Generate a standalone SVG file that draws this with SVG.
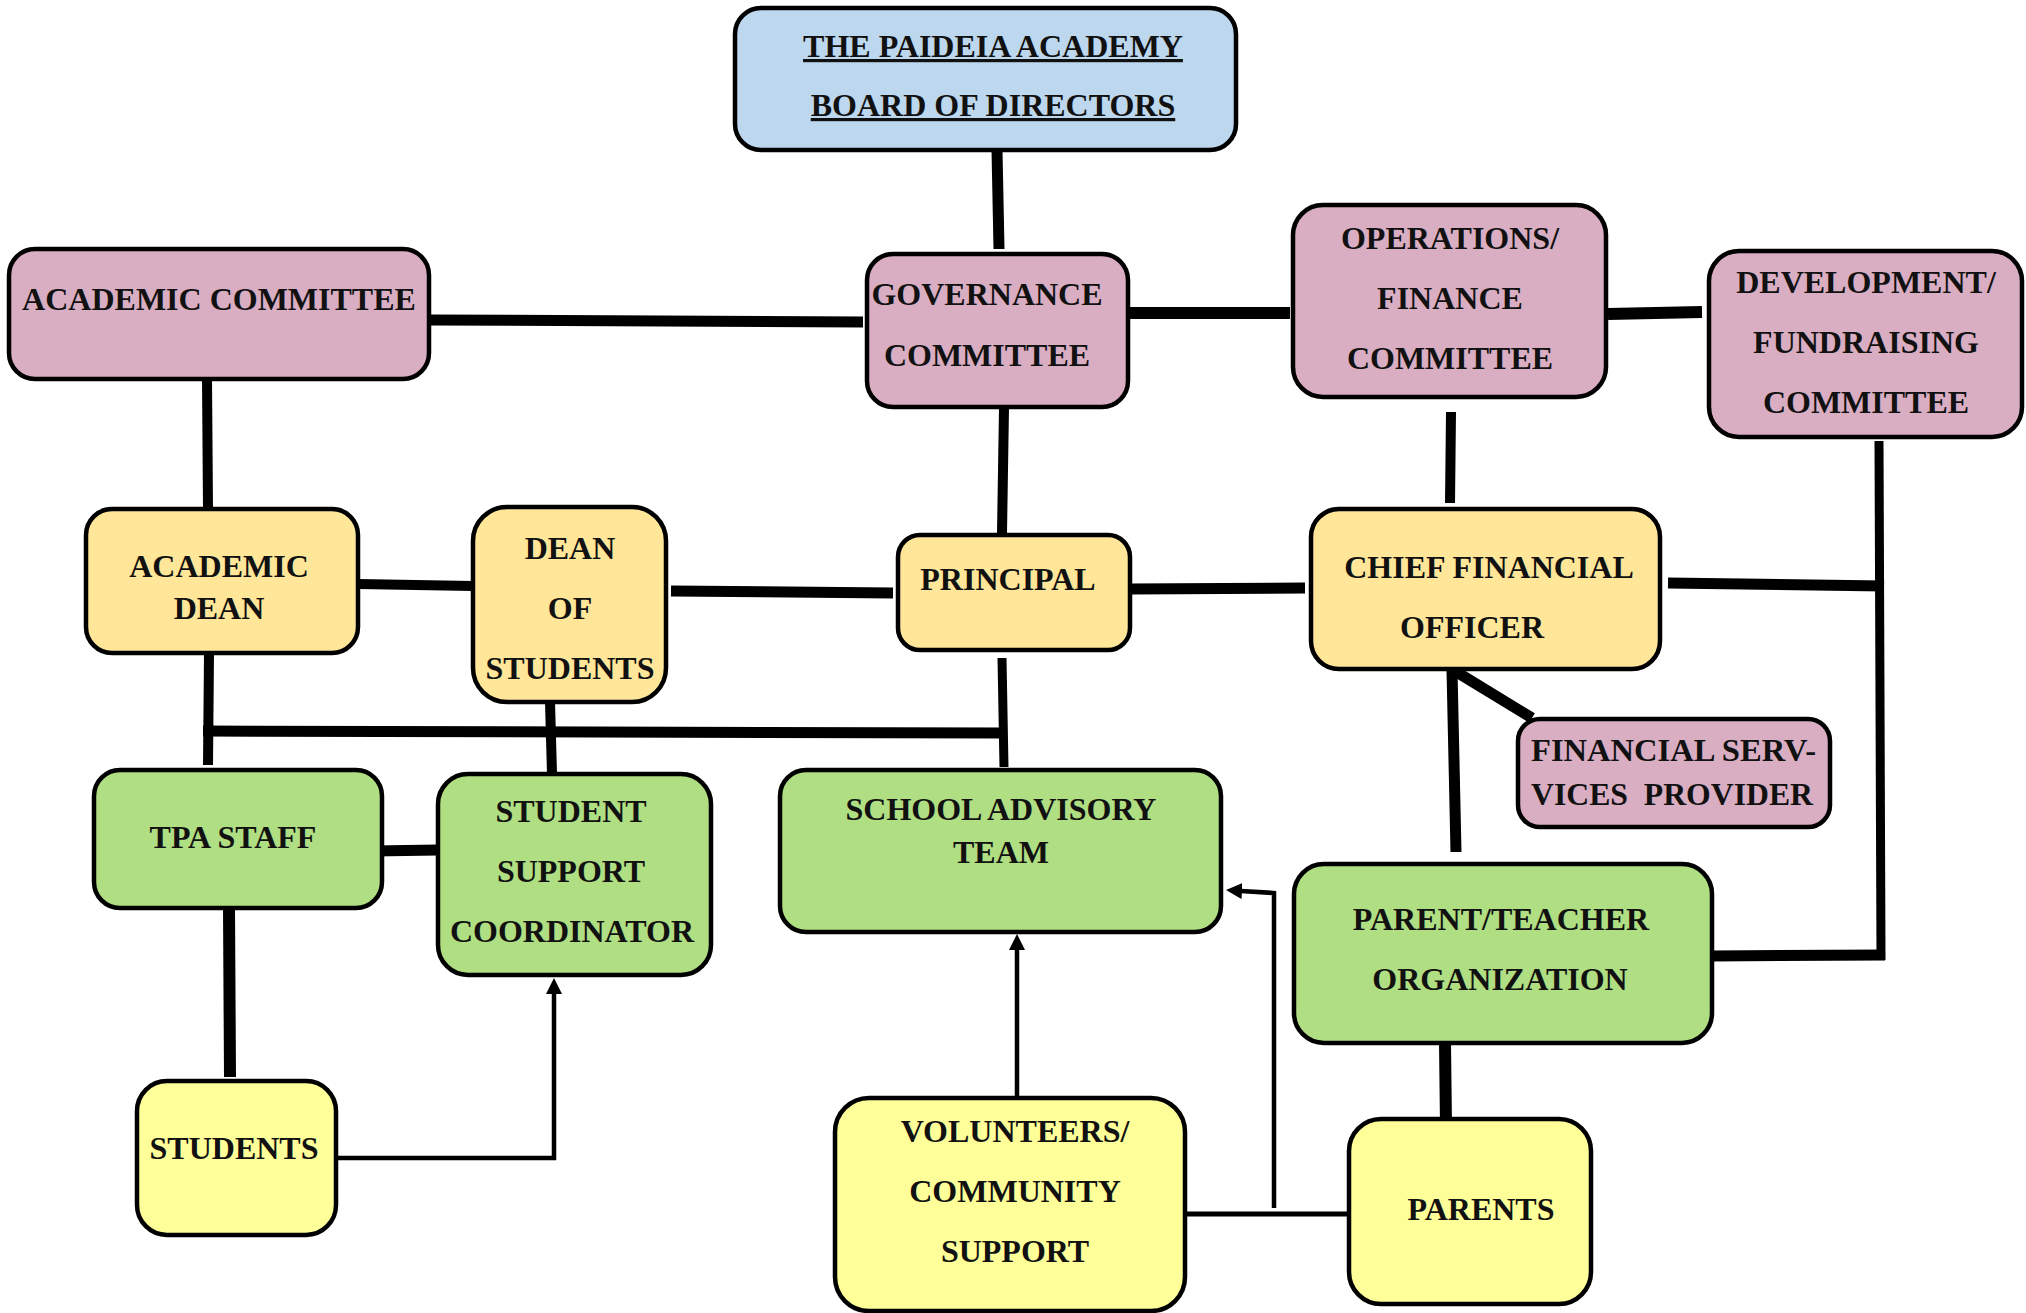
<svg xmlns="http://www.w3.org/2000/svg" width="2026" height="1313" viewBox="0 0 2026 1313">
<style>
.n{stroke:#000;stroke-width:4.5}
.blue{fill:#BDD7EE}.pink{fill:#D9AEC3}.gold{fill:#FFE699}.green{fill:#B0DE82}.yel{fill:#FFFF99}
text{font-family:"Liberation Serif","Times New Roman",serif;font-weight:bold;font-size:32px;fill:#111;text-anchor:middle}
.u{text-decoration:underline}
.c path{fill:none;stroke:#000;stroke-linecap:butt}
.t{stroke-width:4.5}
</style>
<defs>
<marker id="ah" markerUnits="userSpaceOnUse" markerWidth="16" markerHeight="16" viewBox="0 0 16 16" refX="1" refY="8" orient="auto">
<path d="M0,0 L16,8 L0,16 z" fill="#000"/>
</marker>
</defs>
<rect width="2026" height="1313" fill="#fff"/>
<g class="c" id="connectors">
<path d="M997 150 L999 249" stroke-width="11"/>
<path d="M429 320 L863 322" stroke-width="11"/>
<path d="M1119 313 L1290 313" stroke-width="12"/>
<path d="M1608 314 L1702 312" stroke-width="12"/>
<path d="M1004 408 L1002 533" stroke-width="10"/>
<path d="M1451 412 L1450 503" stroke-width="10"/>
<path d="M207 379 L208 509" stroke-width="10"/>
<path d="M358 584 L473 586" stroke-width="10"/>
<path d="M671 591 L893 593" stroke-width="11"/>
<path d="M1130 589 L1305 588" stroke-width="11"/>
<path d="M1668 583 L1884 586" stroke-width="11"/>
<path d="M1879 441 L1881 960" stroke-width="9"/>
<path d="M1712 956 L1885 955" stroke-width="11"/>
<path d="M209 653 L208 765" stroke-width="10"/>
<path d="M203 731 L1006 733" stroke-width="11"/>
<path d="M1002 658 L1004 767" stroke-width="9"/>
<path d="M550 702 L552 774" stroke-width="10"/>
<path d="M373 851 L438 850" stroke-width="11"/>
<path d="M229 908 L230 1077" stroke-width="12"/>
<path d="M1445 1043 L1446 1126" stroke-width="12"/>
<path d="M1456 852 L1452 670" stroke-width="11"/>
<path d="M1532 718 L1450 668" stroke-width="11"/>
<path class="t" d="M336 1158 L554 1158 L554 993" marker-end="url(#ah)"/>
<path class="t" d="M1017 1097 L1017 949" marker-end="url(#ah)"/>
<path d="M1185 1214 L1349 1214" stroke-width="5"/>
<path class="t" d="M1274 1208 L1274 893 L1241 891" marker-end="url(#ah)"/>
</g>
<g id="board"><rect class="n blue" x="735" y="8" width="501" height="142" rx="26"/>
<text class="u" x="993" y="57">THE PAIDEIA ACADEMY</text><text class="u" x="993" y="116">BOARD OF DIRECTORS</text></g>
<g id="academic-committee"><rect class="n pink" x="9" y="249" width="420" height="130" rx="26"/>
<text x="219" y="310">ACADEMIC COMMITTEE</text></g>
<g id="governance"><rect class="n pink" x="867" y="254" width="261" height="153" rx="26"/>
<text x="987" y="305">GOVERNANCE</text><text x="987" y="366">COMMITTEE</text></g>
<g id="operations"><rect class="n pink" x="1293" y="205" width="313" height="192" rx="30"/>
<text x="1450" y="249">OPERATIONS/</text><text x="1450" y="309">FINANCE</text><text x="1450" y="369">COMMITTEE</text></g>
<g id="development"><rect class="n pink" x="1709" y="251" width="313" height="186" rx="30"/>
<text x="1866" y="293">DEVELOPMENT/</text><text x="1866" y="353">FUNDRAISING</text><text x="1866" y="413">COMMITTEE</text></g>
<g id="academic-dean"><rect class="n gold" x="86" y="509" width="272" height="144" rx="26"/>
<text x="219" y="577">ACADEMIC</text><text x="219" y="619">DEAN</text></g>
<g id="dean-of-students"><rect class="n gold" x="473" y="507" width="193" height="195" rx="34"/>
<text x="570" y="559">DEAN</text><text x="570" y="619">OF</text><text x="570" y="679">STUDENTS</text></g>
<g id="principal"><rect class="n gold" x="898" y="535" width="232" height="115" rx="22"/>
<text x="1008" y="590">PRINCIPAL</text></g>
<g id="cfo"><rect class="n gold" x="1311" y="509" width="349" height="160" rx="28"/>
<text x="1489" y="578">CHIEF FINANCIAL</text><text x="1472" y="638">OFFICER</text></g>
<g id="financial-services"><rect class="n pink" x="1518" y="719" width="312" height="108" rx="22"/>
<text x="1531" y="761" style="text-anchor:start" textLength="285" lengthAdjust="spacingAndGlyphs">FINANCIAL SERV-</text>
<text x="1531" y="805" style="text-anchor:start" textLength="282" lengthAdjust="spacingAndGlyphs">VICES &#160;PROVIDER</text></g>
<g id="tpa-staff"><rect class="n green" x="94" y="770" width="288" height="138" rx="26"/>
<text x="233" y="848">TPA STAFF</text></g>
<g id="student-support"><rect class="n green" x="438" y="774" width="273" height="201" rx="30"/>
<text x="571" y="822">STUDENT</text><text x="571" y="882">SUPPORT</text><text x="572" y="942">COORDINATOR</text></g>
<g id="school-advisory"><rect class="n green" x="780" y="770" width="441" height="162" rx="26"/>
<text x="1001" y="820">SCHOOL ADVISORY</text><text x="1001" y="863">TEAM</text></g>
<g id="pto"><rect class="n green" x="1294" y="864" width="418" height="179" rx="30"/>
<text x="1501" y="930">PARENT/TEACHER</text><text x="1500" y="990">ORGANIZATION</text></g>
<g id="students"><rect class="n yel" x="137" y="1081" width="199" height="154" rx="30"/>
<text x="234" y="1159">STUDENTS</text></g>
<g id="volunteers"><rect class="n yel" x="835" y="1098" width="350" height="213" rx="34"/>
<text x="1015" y="1142">VOLUNTEERS/</text><text x="1015" y="1202">COMMUNITY</text><text x="1015" y="1262">SUPPORT</text></g>
<g id="parents"><rect class="n yel" x="1349" y="1119" width="242" height="185" rx="32"/>
<text x="1481" y="1220">PARENTS</text></g>
</svg>
